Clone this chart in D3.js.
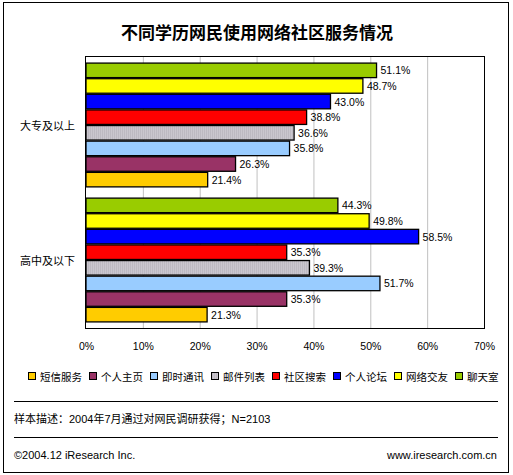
<!DOCTYPE html>
<html>
<head>
<meta charset="utf-8">
<script src="https://cdn.jsdelivr.net/npm/d3@7"></script>
<style>
  body { margin: 0; background: #fff; }
  text { font-family: "Liberation Sans", "Noto Sans CJK SC", sans-serif; }
</style>
</head>
<body>
<div id="chart"></div>
<script>
// data, top bar first within each group
const categories = ["大专及以上", "高中及以下"];
const seriesNames = ["聊天室", "网络交友", "个人论坛", "社区搜索", "邮件列表", "即时通讯", "个人主页", "短信服务"];
const collegeValues = [51.1, 48.7, 43.0, 38.8, 36.6, 35.8, 26.3, 21.4];
const highSchoolValues = [44.3, 49.8, 58.5, 35.3, 39.3, 51.7, 35.3, 21.3];
const xTicks = [0, 10, 20, 30, 40, 50, 60, 70];
const legendOrder = ["短信服务", "个人主页", "即时通讯", "邮件列表", "社区搜索", "个人论坛", "网络交友", "聊天室"];

const colors = {
    "聊天室": "#99cc00",
    "网络交友": "#ffff00",
    "个人论坛": "#0000ff",
    "社区搜索": "#ff0000",
    "邮件列表": "url(#stripes)",
    "即时通讯": "#99ccff",
    "个人主页": "#993366",
    "短信服务": "#ffcc00"
};

const W = 513, H = 475;
const plot = { left: 86, right: 484, top: 57, bottom: 328 };

const svg = d3.select("#chart").append("svg")
    .attr("width", W)
    .attr("height", H);

// gray bar has a fine vertical stripe texture
const pat = svg.append("defs").append("pattern")
    .attr("id", "stripes")
    .attr("width", 2).attr("height", 2)
    .attr("patternUnits", "userSpaceOnUse");
pat.append("rect").attr("width", 2).attr("height", 2).attr("fill", "#cac6ce");
pat.append("rect").attr("width", 1).attr("height", 2).attr("fill", "#bdb9c1");

// outer frame
svg.append("rect")
    .attr("x", 3.5).attr("y", 2.5)
    .attr("width", 505).attr("height", 470)
    .attr("fill", "none").attr("stroke", "#000");

svg.append("text")
    .attr("x", 257).attr("y", 39)
    .attr("text-anchor", "middle")
    .style("font-size", "17px")
    .style("font-weight", "bold")
    .text("不同学历网民使用网络社区服务情况");

let x = d3.scaleLinear()
    .domain([0, 70])
    .range([plot.left, plot.right]);

let y0 = d3.scaleBand()
    .domain(categories)
    .range([plot.top, plot.bottom])
    .paddingInner(0.067)
    .paddingOuter(0.037);

let y1 = d3.scaleBand()
    .domain(seriesNames)
    .range([0, y0.bandwidth()])
    .padding(0.07);

// gridlines
svg.append("g")
    .selectAll("line")
    .data(xTicks.slice(1, -1))
    .enter()
    .append("line")
    .attr("x1", d => x(d) + 0.5).attr("x2", d => x(d) + 0.5)
    .attr("y1", plot.top).attr("y2", plot.bottom)
    .attr("stroke", "#c0c0c0");

const rows = [collegeValues, highSchoolValues];

categories.forEach(function(cat, ci) {
    let g = svg.append("g")
        .attr("transform", "translate(0," + y0(cat) + ")");

    let data = seriesNames.map((s, i) => ({ name: s, value: rows[ci][i] }));

    g.selectAll("rect")
        .data(data)
        .enter()
        .append("rect")
        .attr("x", x(0))
        .attr("y", d => y1(d.name))
        .attr("width", d => x(d.value) - x(0))
        .attr("height", y1.bandwidth())
        .attr("fill", d => colors[d.name])
        .attr("stroke", "#000")
        .attr("stroke-width", 1.3);

    g.selectAll(".val")
        .data(data)
        .enter()
        .append("text")
        .attr("class", "val")
        .attr("x", d => x(d.value) + 4)
        .attr("y", d => y1(d.name) + y1.bandwidth() / 2 + 4)
        .style("font-size", "10.5px")
        .text(d => d.value.toFixed(1) + "%");

    svg.append("text")
        .attr("x", 20)
        .attr("y", y0(cat) + y0.bandwidth() / 2 + 5)
        .style("font-size", "11px")
        .text(cat);
});

// plot border
svg.append("rect")
    .attr("x", plot.left - 0.5).attr("y", plot.top - 0.5)
    .attr("width", plot.right - plot.left + 1)
    .attr("height", plot.bottom - plot.top + 1)
    .attr("fill", "none")
    .attr("stroke", "#000");

// x axis labels
let xAxis = svg.append("g")
    .attr("transform", "translate(0," + (plot.bottom + 2) + ")")
    .call(d3.axisBottom(x).tickValues(xTicks).tickSize(0).tickPadding(13).tickFormat(d => d + "%"));
xAxis.select(".domain").remove();
xAxis.selectAll("text")
    .style("font-family", "'Liberation Sans', sans-serif")
    .style("font-size", "10.5px")
    .attr("fill", "#000");

// legend
let legend = svg.append("g")
    .attr("transform", "translate(28,372)");
let lx = 0;
legendOrder.forEach(function(name) {
    legend.append("rect")
        .attr("x", lx + 0.5).attr("y", 0.5)
        .attr("width", 7).attr("height", 7)
        .attr("fill", colors[name])
        .attr("stroke", "#000");
    let t = legend.append("text")
        .attr("x", lx + 12).attr("y", 8.5)
        .style("font-size", "10.5px")
        .text(name);
    lx += 12 + t.node().getComputedTextLength() + 7;
});

// separators and notes
[401.5, 437.5].forEach(function(yy) {
    svg.append("line")
        .attr("x1", 14).attr("x2", 498)
        .attr("y1", yy).attr("y2", yy)
        .attr("stroke", "#000");
});

svg.append("text")
    .attr("x", 14).attr("y", 423)
    .style("font-size", "11px")
    .text("样本描述：2004年7月通过对网民调研获得；N=2103");

svg.append("text")
    .attr("x", 14).attr("y", 459)
    .style("font-size", "11px")
    .text("©2004.12 iResearch Inc.");

svg.append("text")
    .attr("x", 497).attr("y", 459)
    .attr("text-anchor", "end")
    .style("font-size", "11px")
    .text("www.iresearch.com.cn");
</script>
</body>
</html>
